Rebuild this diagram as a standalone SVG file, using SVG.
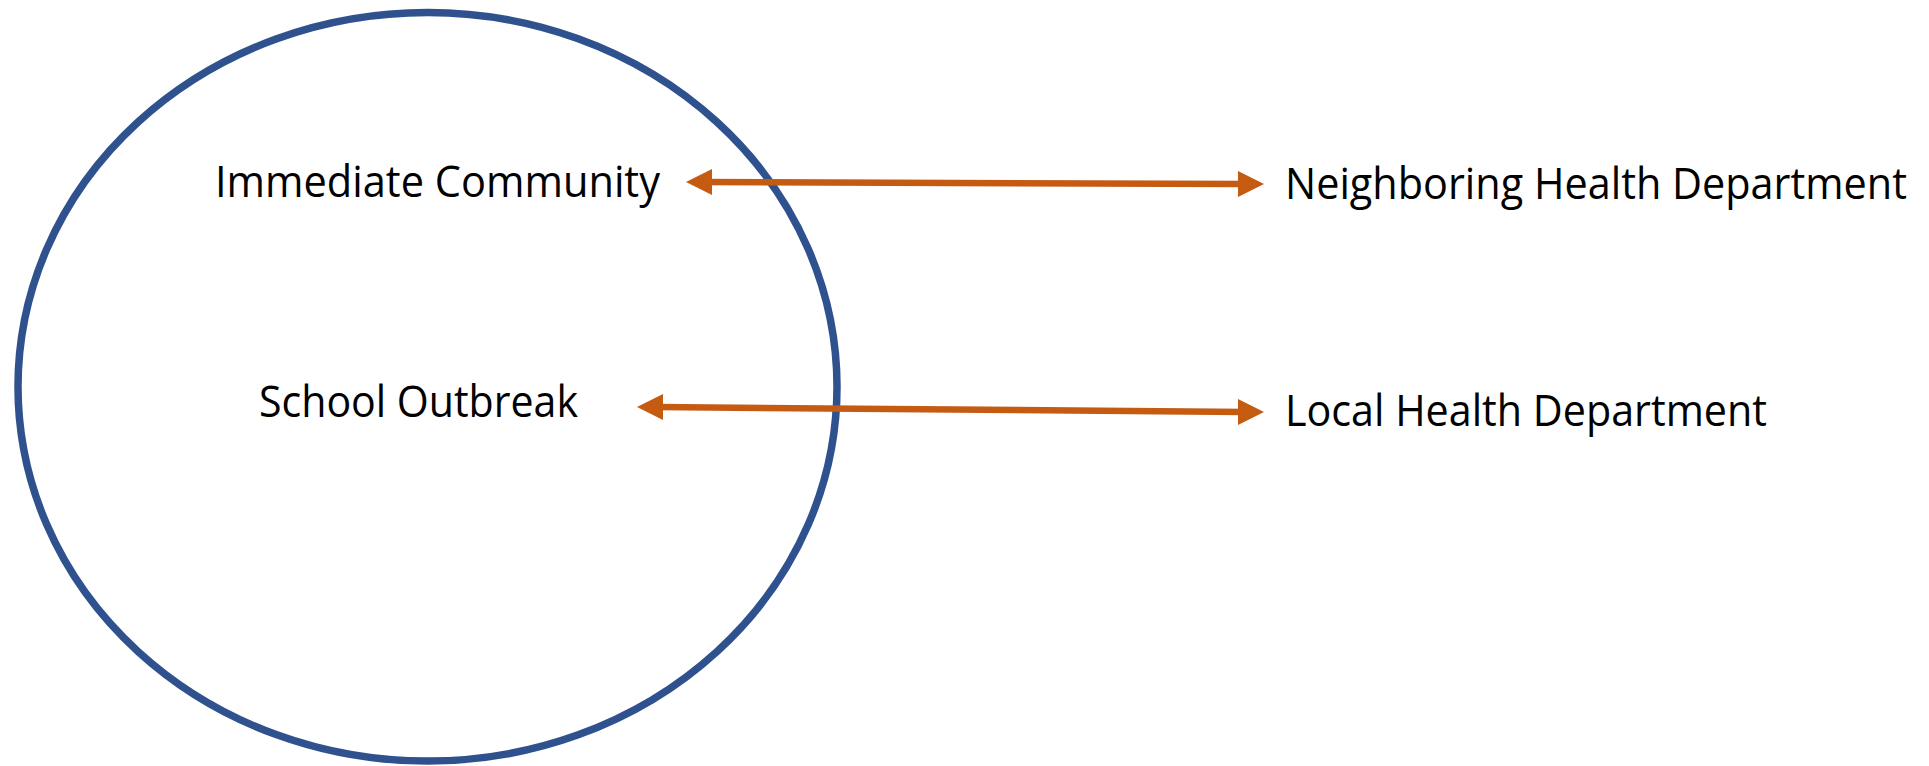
<svg xmlns="http://www.w3.org/2000/svg" width="1929" height="766" viewBox="0 0 1929 766">
<style>
.lbl{font-family:"Open Sans","Liberation Sans",sans-serif;font-size:44px;fill:#000}
.conn{stroke:#C55A11;stroke-width:6.5;fill:none}
.head{fill:#C55A11}
</style>
<rect width="1929" height="766" fill="#fff"/>
<g id="community-circle">
<ellipse cx="427.5" cy="386.8" rx="409.5" ry="374.3" fill="none" stroke="#2F528F" stroke-width="7.5"/>
</g>
<g id="connectors">
<line class="conn" x1="705" y1="182" x2="1245" y2="184"/>
<polygon class="head" points="686,182 712,169 712,195"/>
<polygon class="head" points="1264,184 1238,171 1238,197"/>
<line class="conn" x1="656" y1="407" x2="1245" y2="412"/>
<polygon class="head" points="637,407 663,394 663,420"/>
<polygon class="head" points="1264,412 1238,399 1238,425"/>
</g>
<g id="immediate-community"><text class="lbl" x="215" y="197" textLength="445" lengthAdjust="spacingAndGlyphs">Immediate Community</text></g>
<g id="school-outbreak"><text class="lbl" x="259" y="417" textLength="319" lengthAdjust="spacingAndGlyphs">School Outbreak</text></g>
<g id="neighboring-hd"><text class="lbl" x="1285" y="199" textLength="622" lengthAdjust="spacingAndGlyphs">Neighboring Health Department</text></g>
<g id="local-hd"><text class="lbl" x="1285" y="426" textLength="482" lengthAdjust="spacingAndGlyphs">Local Health Department</text></g>
</svg>
